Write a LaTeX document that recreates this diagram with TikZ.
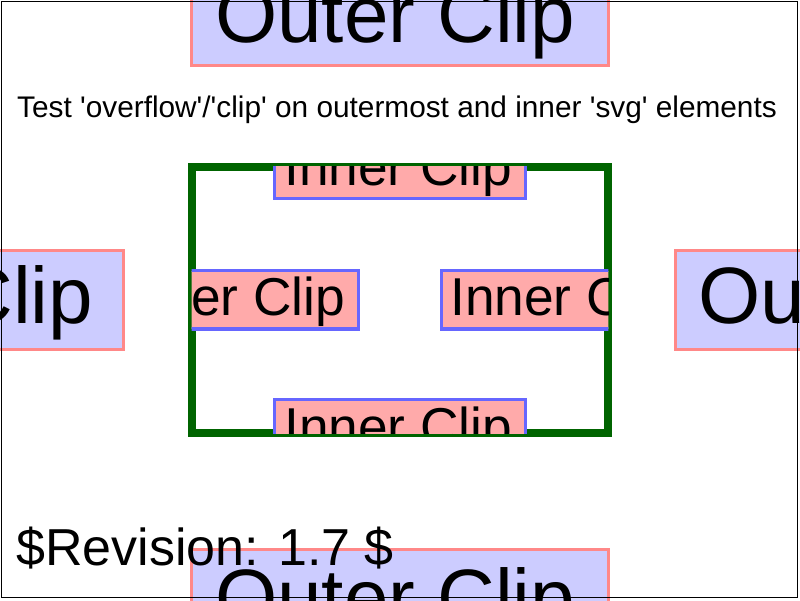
\documentclass[tikz,border=0pt]{standalone}
\usepackage{fontspec}
\setmainfont{Liberation Sans}
\font\titlefont="Liberation Sans" at 29.8pt
\definecolor{outerfill}{RGB}{204,204,255}
\definecolor{outerline}{RGB}{255,136,136}
\definecolor{innerfill}{RGB}{255,170,170}
\definecolor{innerline}{RGB}{102,102,255}
\definecolor{frameg}{RGB}{0,100,0}
\tikzset{
  outerbox/.style={fill=outerfill,draw=outerline,line width=3.33pt},
  innerbox/.style={fill=innerfill,draw=innerline,line width=3.33pt},
  outertext/.style={anchor=base west,inner sep=0pt,font=\fontsize{80}{80}\selectfont},
  innertext/.style={anchor=base west,inner sep=0pt,font=\fontsize{53.3}{53.3}\selectfont},
}
\begin{document}
\begin{tikzpicture}[x=1pt,y=-1pt]
\useasboundingbox (0,0) rectangle (800,600);
\begin{scope}
\clip (0,0) rectangle (800,600);
% outer boxes
\draw[outerbox] (191.7,-100) rectangle (608.3,65.3);
\node[outertext] (ot) at (215,42) {Outer Clip};
\draw[outerbox] (-400,250.7) rectangle (123.3,349.3);
\node[outertext] (ol) at (-267,323) {Outer Clip};
\draw[outerbox] (675.7,250.7) rectangle (1200,349.3);
\node[outertext] (or) at (698,323) {Outer Clip};
\draw[outerbox] (191.7,549.7) rectangle (608.3,800);
\node[outertext] (ob) at (215,625) {Outer Clip};
% inner svg
\draw[frameg,line width=8.3pt] (191.7,166.7) rectangle (608.3,433.3);
\begin{scope}
\clip (191.7,166.7) rectangle (608.3,433.3);
\draw[innerbox] (274.7,100) rectangle (525.3,198.3);
\node[innertext] (it) at (284,185) {Inner Clip};
\draw[innerbox] (274.7,399.7) rectangle (525.3,500);
\node[innertext] (ib) at (284,445) {Inner Clip};
\draw[innerbox] (100,270.7) rectangle (358.3,329);
\node[innertext] (il) at (117,315) {Inner Clip};
\draw[innerbox] (441.7,270.7) rectangle (700,329);
\node[innertext] (ir) at (450,315) {Inner Clip};
\end{scope}
% texts
\node[anchor=base west,inner sep=0pt,font=\titlefont] (title) at (17,117) {Test 'overflow'/'clip' on outermost and inner 'svg' elements};
\node[anchor=base west,inner sep=0pt,font=\fontsize{52}{52}\selectfont] (rev) at (16,565) {\$Revision: 1.7 \$};
% frame
\draw[black,line width=1.2pt] (1.7,1.7) rectangle (797.6,597.5);
\end{scope}
\end{tikzpicture}
\end{document}
